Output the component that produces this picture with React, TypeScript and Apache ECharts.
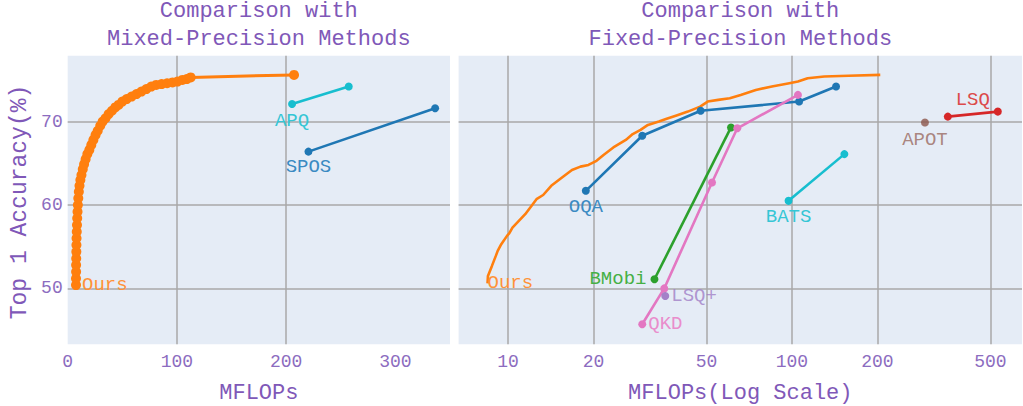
import React, { useEffect, useRef } from "react";
import * as echarts from "echarts";

const FONT = "'Liberation Mono', 'Courier New', monospace";
const TITLE_COLOR = "#8058b8";
const TICK_COLOR = "#8c6cc0";

// "Ours" as read from the left (linear) panel
const oursMixed: [number, number][] = [
  [7.6, 50.4], [7.6, 51.2], [7.7, 52.0], [7.7, 52.8], [7.8, 53.6], [7.9, 54.4],
  [8.0, 55.2], [8.1, 56.0], [8.3, 56.8], [8.5, 57.6], [8.7, 58.4], [9.0, 59.2],
  [9.3, 60.0], [9.7, 60.8], [10.2, 61.6], [10.8, 62.3], [11.6, 63.0], [12.6, 63.6],
  [13.8, 64.3], [15.0, 64.9], [16.4, 65.5], [18.0, 66.1], [19.8, 66.6], [21.6, 67.2],
  [23.5, 67.8], [25.5, 68.4], [27.5, 68.9], [29.8, 69.5], [32.0, 70.0], [34.6, 70.4],
  [37.5, 70.9], [40.5, 71.3], [43.5, 71.7], [46.5, 72.0], [50.0, 72.4], [54.0, 72.7],
  [58.5, 73.0], [63.0, 73.3], [67.5, 73.6], [72.0, 73.9], [76.5, 74.2], [81.0, 74.4],
  [86.0, 74.5], [91.0, 74.6], [96.0, 74.7], [100.5, 74.8], [105.0, 75.0], [109.0, 75.1],
  [112.6, 75.3], [207.2, 75.6],
];

// "Ours" as read from the right (log) panel
const oursFixed: [number, number][] = [
  [8.47, 50.6], [8.5, 51.5], [8.78, 52.7], [9.06, 53.9], [9.2, 54.5], [9.47, 55.3],
  [9.92, 56.3], [10.1, 56.6], [10.37, 57.3], [11.5, 58.9], [12.6, 60.7], [13.3, 61.2],
  [14.2, 62.3], [15.5, 63.3], [16.8, 64.2], [18.0, 64.6], [19.2, 64.8], [20.5, 65.3],
  [21.7, 66.0], [23.5, 66.9], [26.0, 67.8], [27.5, 68.5], [29.3, 69.0], [31.1, 69.6],
  [34.0, 70.0], [36.0, 70.3], [39.7, 70.8], [43.0, 71.2], [47.5, 71.8], [50.5, 72.4],
  [55.0, 72.6], [60.4, 72.8], [66.0, 73.2], [74.6, 73.8], [85.0, 74.2], [97.9, 74.6],
  [105.0, 74.8], [113.6, 75.2], [130.0, 75.4], [158.0, 75.5], [204.7, 75.6],
];

const apq: [number, number][] = [[205.4, 72.1], [257.3, 74.2]];
const spos: [number, number][] = [[220.4, 66.4], [336.4, 71.6]];
const oqa: [number, number][] = [[18.8, 61.7], [29.7, 68.3], [47.7, 71.3], [106, 72.4], [143, 74.2]];
const bmobi: [number, number][] = [[32.8, 51.1], [61.0, 69.3]];
const qkd: [number, number][] = [[29.7, 45.7], [35.5, 50.0], [52.3, 62.7], [64.2, 69.2], [105, 73.2]];
const lsqPlus: [number, number][] = [[35.8, 49.1]];
const bats: [number, number][] = [[97.3, 60.5], [153, 66.1]];
const apot: [number, number][] = [[294, 69.9]];
const lsq: [number, number][] = [[354, 70.6], [531, 71.2]];

const leftXTicks = [0, 100, 200, 300];
const rightXTicks = [10, 20, 50, 100, 200, 500];
const yTicks = [50, 60, 70];

const C = {
  blue: "#1f77b4",
  orange: "#ff7f0e",
  green: "#2ca02c",
  red: "#d62728",
  purple: "#9467bd",
  brown: "#8c564b",
  pink: "#e377c2",
  cyan: "#17becf",
};

// label text is drawn slightly lighter, as in the reference
const L = {
  blue: "#3a8ac2",
  orange: "#ff9238",
  green: "#45b045",
  red: "#dc4a4a",
  purple: "#a07ec6",
  brown: "#9a6a60",
  pink: "#e98dcc",
  cyan: "#35c6d5",
};

function withLabel(
  data: [number, number][],
  idx: number,
  text: string,
  color: string,
  position: string,
  distance: number,
  offset?: [number, number]
) {
  return data.map((p, i) =>
    i === idx
      ? {
          value: p,
          label: {
            show: true,
            formatter: text,
            position,
            distance,
            offset: offset || [0, 0],
            color,
            fontFamily: FONT,
            fontSize: 19,
          },
        }
      : { value: p }
  );
}

function lineSeries(
  name: string,
  data: any[],
  color: string,
  axis: number,
  extra: any = {}
) {
  return {
    name,
    type: "line",
    xAxisIndex: axis,
    yAxisIndex: axis,
    data,
    symbol: "circle",
    symbolSize: 8,
    showSymbol: true,
    itemStyle: { color },
    lineStyle: { color, width: 2.6 },
    silent: true,
    z: 3,
    ...extra,
  };
}

const gridLine = { show: true, lineStyle: { color: "#a9a9a9", width: 1.5 } };

export default function App() {
  const ref = useRef<HTMLDivElement>(null);

  useEffect(() => {
    if (!ref.current) return;
    const chart = echarts.init(ref.current, undefined, { renderer: "svg" });
    const tickLabel = { color: TICK_COLOR, fontFamily: FONT, fontSize: 18 };
    const axisName = { color: TITLE_COLOR, fontFamily: FONT, fontSize: 22 };

    chart.setOption({
      animation: false,
      backgroundColor: "#ffffff",
      grid: [
        { left: 67.7, top: 55.7, width: 382.3, height: 288.6, show: true, backgroundColor: "#E5ECF6", borderWidth: 0, outerBoundsMode: "none", containLabel: false },
        { left: 458.6, top: 55.7, width: 563.4, height: 288.6, show: true, backgroundColor: "#E5ECF6", borderWidth: 0, outerBoundsMode: "none", containLabel: false },
      ],
      xAxis: [
        {
          type: "value",
          gridIndex: 0,
          min: 0,
          max: 350,
          interval: 100,
          axisLine: { show: false },
          axisTick: { show: false, customValues: leftXTicks },
          axisLabel: { ...tickLabel, margin: 9, customValues: leftXTicks },
          splitLine: { ...gridLine, showMinLine: false, showMaxLine: false },
          name: "MFLOPs",
          nameLocation: "middle",
          nameGap: 38,
          nameTextStyle: axisName,
        },
        {
          type: "log",
          gridIndex: 1,
          min: 6.7,
          max: 646,
          axisLine: { show: false },
          axisTick: { show: false, customValues: rightXTicks },
          axisLabel: { ...tickLabel, margin: 9, customValues: rightXTicks },
          splitLine: gridLine,
          name: "MFLOPs(Log Scale)",
          nameLocation: "middle",
          nameGap: 38,
          nameTextStyle: axisName,
        },
      ],
      yAxis: [
        {
          type: "value",
          gridIndex: 0,
          min: 43.3,
          max: 77.9,
          axisLine: { show: false },
          axisTick: { show: false, customValues: yTicks },
          axisLabel: { ...tickLabel, margin: 5, customValues: yTicks },
          splitLine: gridLine,
        },
        {
          type: "value",
          gridIndex: 1,
          min: 43.3,
          max: 77.9,
          axisLine: { show: false },
          axisTick: { show: false, customValues: yTicks },
          axisLabel: { show: false, customValues: yTicks },
          splitLine: gridLine,
        },
      ],
      series: [
        // left panel
        lineSeries("APQ", withLabel(apq, 0, "APQ", L.cyan, "bottom", 3), C.cyan, 0),
        lineSeries("SPOS", withLabel(spos, 0, "SPOS", L.blue, "bottom", 2), C.blue, 0),
        lineSeries("Ours", withLabel(oursMixed, 0, "Ours", L.orange, "right", 1), C.orange, 0, {
          symbolSize: 10,
          lineStyle: { color: C.orange, width: 3 },
          z: 4,
        }),
        // right panel
        lineSeries("Ours", withLabel(oursFixed, 0, "Ours", L.orange, "right", 0), C.orange, 1, {
          symbolSize: 0,
          lineStyle: { color: C.orange, width: 2.6 },
        }),
        lineSeries("OQA", withLabel(oqa, 0, "OQA", L.blue, "bottom", 3), C.blue, 1),
        lineSeries("BMobi", withLabel(bmobi, 0, "BMobi", L.green, "left", 4), C.green, 1),
        lineSeries("QKD", withLabel(qkd, 0, "QKD", L.pink, "right", 2), C.pink, 1),
        {
          name: "LSQ+",
          type: "scatter",
          xAxisIndex: 1,
          yAxisIndex: 1,
          symbolSize: 8,
          itemStyle: { color: C.purple },
          data: withLabel(lsqPlus, 0, "LSQ+", L.purple, "right", 2),
          silent: true,
          z: 3,
        },
        lineSeries("BATS", withLabel(bats, 0, "BATS", L.cyan, "bottom", 3), C.cyan, 1),
        {
          name: "APOT",
          type: "scatter",
          xAxisIndex: 1,
          yAxisIndex: 1,
          symbolSize: 8,
          itemStyle: { color: C.brown },
          data: withLabel(apot, 0, "APOT", L.brown, "bottom", 4),
          silent: true,
          z: 3,
        },
        lineSeries("LSQ", withLabel(lsq, 0, "LSQ", L.red, "top", 3, [25, 0]), C.red, 1),
      ],
      graphic: [
        { type: "text", x: 258.8, y: 11.5, style: { text: "Comparison with", font: `22px ${FONT}`, fill: TITLE_COLOR, textAlign: "center", textVerticalAlign: "middle" } },
        { type: "text", x: 258.8, y: 39.5, style: { text: "Mixed-Precision Methods", font: `22px ${FONT}`, fill: TITLE_COLOR, textAlign: "center", textVerticalAlign: "middle" } },
        { type: "text", x: 740.3, y: 11.5, style: { text: "Comparison with", font: `22px ${FONT}`, fill: TITLE_COLOR, textAlign: "center", textVerticalAlign: "middle" } },
        { type: "text", x: 740.3, y: 39.5, style: { text: "Fixed-Precision Methods", font: `22px ${FONT}`, fill: TITLE_COLOR, textAlign: "center", textVerticalAlign: "middle" } },
        { type: "text", x: 20, y: 202, rotation: Math.PI / 2, style: { text: "Top 1 Accuracy(%)", font: `23px ${FONT}`, fill: TITLE_COLOR, textAlign: "center", textVerticalAlign: "middle" } },
      ],
    });

    return () => chart.dispose();
  }, []);

  return (
    <div
      ref={ref}
      style={{ position: "fixed", left: 0, top: 0, width: 1023, height: 406 }}
    />
  );
}
